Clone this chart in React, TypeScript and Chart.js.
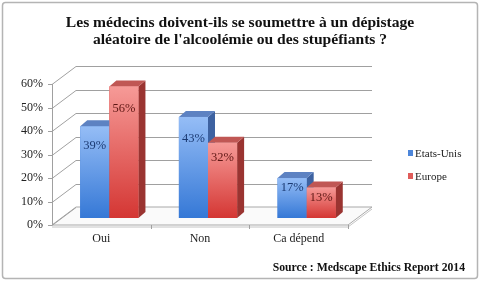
import React, { useEffect, useRef } from 'react';
import { Chart, registerables } from 'chart.js';

Chart.register(...registerables);

const categories = ['Oui', 'Non', 'Ca dépend'];
const seriesNames = ['Etats-Unis', 'Europe'];
const etatsUnis = [39, 43, 17];
const europe = [56, 32, 13];
const yTickValues = [0, 10, 20, 30, 40, 50, 60];
const titleLines = [
  'Les médecins doivent-ils se soumettre à un dépistage',
  "aléatoire de l'alcoolémie ou des stupéfiants ?",
];
const sourceText = 'Source : Medscape Ethics Report 2014';

const SERIF = "'Liberation Serif', 'Times New Roman', serif";

const WALL = { dx: 24, dy: -18 };
const BAR_SHIFT = { dx: 8, dy: -7 };
const BAR_DEPTH = { dx: 7, dy: -6 };

const palette = [
  { top: '#95bdf6', bottom: '#3578d6', cap: '#5d82c2', side: '#3d62a1', label: '#1b3a72', legend: '#4d86da' },
  { top: '#f69a97', bottom: '#d43633', cap: '#c05754', side: '#9a3431', label: '#5e1714', legend: '#e05c5a' },
];

const threeD = {
  id: 'threeD',
  beforeDatasetsDraw(chart: any) {
    const { ctx, chartArea: a, scales } = chart;
    const y = scales.y;
    const x = scales.x;
    const yb = y.getPixelForValue(0);
    ctx.save();
    // floor slab
    ctx.beginPath();
    ctx.moveTo(a.left, yb);
    ctx.lineTo(a.right, yb);
    ctx.lineTo(a.right + WALL.dx, yb + WALL.dy);
    ctx.lineTo(a.left + WALL.dx, yb + WALL.dy);
    ctx.closePath();
    ctx.fillStyle = '#fafafa';
    ctx.fill();
    ctx.strokeStyle = '#a8a8a8';
    ctx.lineWidth = 1;
    ctx.stroke();
    ctx.beginPath();
    ctx.moveTo(a.left, yb + 2);
    ctx.lineTo(a.right, yb + 2);
    ctx.lineTo(a.right + WALL.dx, yb + WALL.dy + 2);
    ctx.strokeStyle = '#c4c4c4';
    ctx.stroke();
    // grid: left wall diagonals + back wall lines
    ctx.strokeStyle = '#a0a0a0';
    ctx.lineWidth = 1;
    yTickValues.forEach((v) => {
      const yy = Math.round(y.getPixelForValue(v)) + 0.5;
      ctx.beginPath();
      ctx.moveTo(a.left, yy);
      ctx.lineTo(a.left + WALL.dx, yy + WALL.dy);
      if (v > 0) ctx.lineTo(a.right + WALL.dx, yy + WALL.dy);
      ctx.stroke();
      ctx.beginPath();
      ctx.moveTo(a.left - 4, yy);
      ctx.lineTo(a.left, yy);
      ctx.stroke();
    });
    // front value axis
    ctx.beginPath();
    ctx.moveTo(a.left + 0.5, y.getPixelForValue(0));
    ctx.lineTo(a.left + 0.5, y.getPixelForValue(60));
    ctx.stroke();
    // category tick marks on front edge
    const step = x.getPixelForValue(1) - x.getPixelForValue(0);
    for (let i = 0; i < categories.length; i++) {
      const bx = Math.round(x.getPixelForValue(i) + step / 2) + 0.5;
      ctx.beginPath();
      ctx.moveTo(bx, yb);
      ctx.lineTo(bx, yb + 4);
      ctx.stroke();
    }
    ctx.restore();
    ctx.save();
    ctx.translate(BAR_SHIFT.dx, BAR_SHIFT.dy);
  },
  afterDatasetsDraw(chart: any) {
    const { ctx } = chart;
    const metas = chart.getSortedVisibleDatasetMetas();
    const labels: any[] = [];
    for (let i = 0; i < categories.length; i++) {
      metas.forEach((meta: any, d: number) => {
        const bar = meta.data[i];
        if (!bar) return;
        const { x, y, base, width } = bar.getProps(['x', 'y', 'base', 'width'], true);
        const l = x - width / 2;
        const r = x + width / 2;
        const p = palette[d];
        // side face
        ctx.beginPath();
        ctx.moveTo(r, y);
        ctx.lineTo(r + BAR_DEPTH.dx, y + BAR_DEPTH.dy);
        ctx.lineTo(r + BAR_DEPTH.dx, base + BAR_DEPTH.dy);
        ctx.lineTo(r, base);
        ctx.closePath();
        ctx.fillStyle = p.side;
        ctx.fill();
        // top face
        ctx.beginPath();
        ctx.moveTo(l, y);
        ctx.lineTo(l + BAR_DEPTH.dx, y + BAR_DEPTH.dy);
        ctx.lineTo(r + BAR_DEPTH.dx, y + BAR_DEPTH.dy);
        ctx.lineTo(r, y);
        ctx.closePath();
        ctx.fillStyle = p.cap;
        ctx.fill();
        // front face
        const g = ctx.createLinearGradient(0, y, 0, base);
        g.addColorStop(0, p.top);
        g.addColorStop(1, p.bottom);
        ctx.fillStyle = g;
        ctx.fillRect(l, y, width, base - y);
        const h = base - y;
        const off = Math.min(22, Math.max(10, (h - 20) * 0.27));
        const val = chart.data.datasets[d].data[i];
        labels.push({ x, y: y + off, text: val + '%', color: p.label });
      });
    }
    ctx.font = `12.5px ${SERIF}`;
    ctx.textAlign = 'center';
    ctx.textBaseline = 'middle';
    labels.forEach((lb) => {
      ctx.fillStyle = lb.color;
      ctx.fillText(lb.text, lb.x, lb.y);
    });
    ctx.restore();
  },
  afterDraw(chart: any) {
    const { ctx } = chart;
    ctx.save();
    // title
    ctx.font = `bold 15.6px ${SERIF}`;
    ctx.textAlign = 'center';
    ctx.textBaseline = 'alphabetic';
    ctx.fillStyle = '#111';
    titleLines.forEach((t, i) => ctx.fillText(t, 240, 27 + i * 16.5));
    // legend
    ctx.font = `11px ${SERIF}`;
    ctx.textAlign = 'left';
    ctx.textBaseline = 'middle';
    seriesNames.forEach((name, i) => {
      const cy = 154 + i * 23;
      ctx.fillStyle = palette[i].legend;
      ctx.fillRect(408, cy - 4, 5, 6);
      ctx.fillStyle = '#222';
      ctx.fillText(name, 415, cy);
    });
    // source
    ctx.font = `bold 11.7px ${SERIF}`;
    ctx.textAlign = 'right';
    ctx.fillStyle = '#111';
    ctx.fillText(sourceText, 465, 268);
    // border
    ctx.beginPath();
    (ctx as any).roundRect(2.5, 2.5, 475, 276, 3);
    ctx.strokeStyle = '#b4b4b4';
    ctx.lineWidth = 1.5;
    ctx.stroke();
    ctx.restore();
  },
};

export default function App() {
  const ref = useRef<HTMLCanvasElement | null>(null);
  useEffect(() => {
    if (!ref.current) return;
    const chart = new Chart(ref.current, {
      type: 'bar',
      data: {
        labels: categories,
        datasets: [
          { label: seriesNames[0], data: etatsUnis, backgroundColor: palette[0].bottom },
          { label: seriesNames[1], data: europe, backgroundColor: palette[1].bottom },
        ],
      },
      options: {
        responsive: false,
        animation: false,
        devicePixelRatio: 1,
        layout: { padding: { left: 0, right: 132, top: 84, bottom: 26 } },
        datasets: { bar: { categoryPercentage: 0.59, barPercentage: 1.0 } },
        plugins: {
          legend: { display: false },
          tooltip: { enabled: false },
          title: { display: false },
        },
        scales: {
          x: {
            grid: { display: false, drawTicks: false },
            border: { display: false },
            ticks: { color: '#222', font: { family: SERIF, size: 12 }, padding: 7 },
            afterFit: (s: any) => { s.height = 30; },
          },
          y: {
            min: 0,
            max: 60,
            grid: { display: false, drawTicks: false },
            border: { display: false },
            ticks: {
              stepSize: 10,
              color: '#222',
              font: { family: SERIF, size: 12 },
              padding: 9,
              callback: (v: any) => v + '%',
            },
            afterFit: (s: any) => { s.width = 52; },
          },
        },
      },
      plugins: [threeD],
    });
    return () => chart.destroy();
  }, []);
  return (
    <div style={{ position: 'fixed', left: 0, top: 0, width: 480, height: 281, background: '#fff' }}>
      <canvas ref={ref} width={480} height={281} style={{ display: 'block' }} />
    </div>
  );
}
